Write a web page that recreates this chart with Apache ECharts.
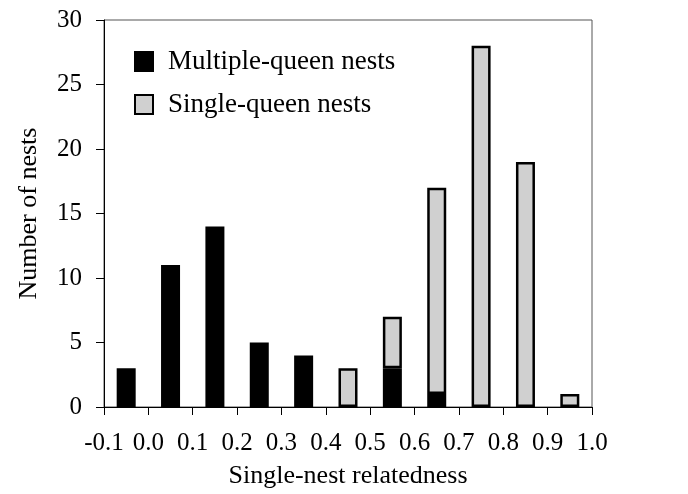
<!DOCTYPE html>
<html>
<head>
<meta charset="utf-8">
<script src="https://cdn.jsdelivr.net/npm/echarts@6/dist/echarts.min.js"></script>
<style>
  html, body { margin: 0; padding: 0; background: #fff; }
  #chart { width: 688px; height: 494px; }
</style>
</head>
<body>
<div id="chart"></div>
<script>
// Bin centers (single-nest relatedness)
const binCenters = [-0.05, 0.05, 0.15, 0.25, 0.35, 0.45, 0.55, 0.65, 0.75, 0.85, 0.95];
// Number of multiple-queen nests per bin (null = no bar)
const multipleQueen = [3, 11, 14, 5, 4, null, 3, 1, null, null, null];
// Number of single-queen nests per bin (null = no bar)
const singleQueen = [null, null, null, null, null, 3, 4, 16, 28, 19, 1];
// Tick range of the relatedness axis
const xTickMin = -0.1, xTickMax = 1.0, xTickStep = 0.1;
const yTickMin = 0, yTickMax = 30, yTickStep = 5;

const seriesNames = ['Multiple-queen nests', 'Single-queen nests'];
const xAxisTitle = 'Single-nest relatedness';
const yAxisTitle = 'Number of nests';

const FONT = 'Liberation Serif';

const chart = echarts.init(document.getElementById('chart'), null, { renderer: 'canvas' });

chart.setOption({
  backgroundColor: '#ffffff',
  animation: false,
  textStyle: { fontFamily: FONT, color: '#000' },
  grid: {
    left: 104, right: 96, top: 20, bottom: 85,
    show: true, borderColor: '#555', borderWidth: 1, backgroundColor: 'transparent'
  },
  legend: {
    orient: 'vertical',
    left: 129, top: 43,
    itemWidth: 18, itemHeight: 19,
    itemGap: 16,
    icon: 'rect',
    data: seriesNames,
    textStyle: { fontFamily: FONT, fontSize: 27, color: '#000', padding: [0, 0, 0, 10] }
  },
  xAxis: [
    {
      // bins (hidden), one band per 0.1 interval
      type: 'category',
      data: binCenters.map(String),
      boundaryGap: true,
      position: 'bottom',
      axisLine: { show: false },
      axisTick: { show: false },
      axisLabel: { show: false },
      splitLine: { show: false }
    },
    {
      type: 'value',
      position: 'bottom',
      min: xTickMin, max: xTickMax, interval: xTickStep,
      name: xAxisTitle,
      nameLocation: 'middle',
      nameGap: 56,
      nameTextStyle: { fontFamily: FONT, fontSize: 26, color: '#000' },
      axisLine: { show: true, onZero: false, lineStyle: { color: '#000', width: 1 } },
      axisTick: { show: true, inside: false, length: 8, lineStyle: { color: '#000' } },
      axisLabel: {
        fontFamily: FONT, fontSize: 25, color: '#000', margin: 24,
        formatter: (v) => v.toFixed(1)
      },
      splitLine: { show: false }
    }
  ],
  yAxis: {
    type: 'value',
    min: yTickMin, max: yTickMax, interval: yTickStep,
    name: yAxisTitle,
    nameLocation: 'middle',
    nameGap: 62,
    nameRotate: 90,
    nameTextStyle: { fontFamily: FONT, fontSize: 26, color: '#000' },
    axisLine: { show: true, onZero: false, lineStyle: { color: '#000', width: 1 } },
    axisTick: { show: true, inside: false, length: 8, lineStyle: { color: '#000' } },
    axisLabel: { fontFamily: FONT, fontSize: 25, color: '#000', margin: 22 },
    splitLine: { show: false }
  },
  series: [
    {
      name: seriesNames[0],
      type: 'bar',
      xAxisIndex: 0,
      stack: 'nests',
      barWidth: 19,
      data: multipleQueen,
      itemStyle: { color: '#000', borderColor: '#000', borderWidth: 2.5 }
    },
    {
      name: seriesNames[1],
      type: 'bar',
      xAxisIndex: 0,
      stack: 'nests',
      barWidth: 19,
      data: singleQueen,
      itemStyle: { color: '#d0d0d0', borderColor: '#000', borderWidth: 2.5 }
    }
  ]
});
</script>
</body>
</html>
